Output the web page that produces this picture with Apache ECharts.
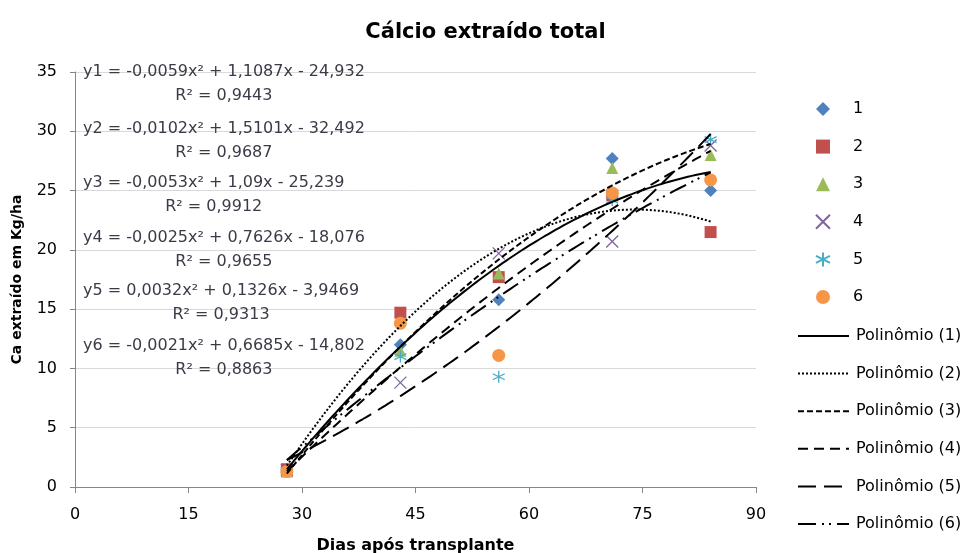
<!DOCTYPE html>
<html>
<head>
<meta charset="utf-8">
<script src="https://cdn.jsdelivr.net/npm/echarts@6/dist/echarts.min.js"></script>
<style>html,body{margin:0;padding:0;background:#fff}#c{width:971px;height:553px}</style>
</head>
<body>
<div id="c"></div>
<script>
// ---- data ----
const days = [28, 43, 56, 71, 84];
const s1 = [1.5, 12.0, 15.8, 27.7, 25.0];
const s2 = [1.5, 14.7, 17.7, 24.6, 21.5];
const s3 = [1.3, 11.5, 18.0, 26.9, 28.0];
const s4 = [1.4, 8.8, 19.7, 20.7, 28.8];
const s5 = [1.4, 11.0, 9.3, 24.2, 29.3];
const s6 = [1.3, 13.8, 11.1, 24.8, 25.9];
const seriesNames = ['1', '2', '3', '4', '5', '6'];
const trendNames = ['Polinômio (1)', 'Polinômio (2)', 'Polinômio (3)', 'Polinômio (4)', 'Polinômio (5)', 'Polinômio (6)'];
// quadratic trend coefficients shown on the chart: [a, b, c] for a*x^2 + b*x + c
const coefA = [-0.0059, -0.0102, -0.0053, -0.0025, 0.0032, -0.0021];
const coefB = [1.1087, 1.5101, 1.09, 0.7626, 0.1326, 0.6685];
const coefC = [-24.932, -32.492, -25.239, -18.076, -3.9469, -14.802];
const eqLabels = [
  'y1 = -0,0059x² + 1,1087x - 24,932',
  'y2 = -0,0102x² + 1,5101x - 32,492',
  'y3 = -0,0053x² + 1,09x - 25,239',
  'y4 = -0,0025x² + 0,7626x - 18,076',
  'y5 = 0,0032x² + 0,1326x - 3,9469',
  'y6 = -0,0021x² + 0,6685x - 14,802'
];
const r2Labels = ['R² = 0,9443', 'R² = 0,9687', 'R² = 0,9912', 'R² = 0,9655', 'R² = 0,9313', 'R² = 0,8863'];
const xTicks = [0, 15, 30, 45, 60, 75, 90];
const yTicks = [0, 5, 10, 15, 20, 25, 30, 35];

// ---- styles ----
const colors = ['#4F81BD', '#C0504D', '#9BBB59', '#8064A2', '#4BACC6', '#F79646'];
const symbols = ['diamond', 'rect', 'triangle', 'path://M0,0L10,10M10,0L0,10', 'path://M5,0L5,10M0,2.5L10,7.5M0,7.5L10,2.5', 'circle'];
const symSizes = [13, 12, 12, 12, 12, 13];
const dashes = ['solid', [2, 2], [6, 3], [10, 6], [18, 8], [18, 6, 2, 5, 2, 6]];
const FONT = '"DejaVu Sans", sans-serif';

const values = [s1, s2, s3, s4, s5, s6];
const series = [];
values.forEach((v, i) => {
  const stroke = i === 3 || i === 4;
  series.push({
    name: seriesNames[i],
    type: 'scatter',
    data: days.map((d, k) => [d, v[k]]),
    symbol: symbols[i],
    symbolSize: symSizes[i],
    itemStyle: stroke ? { color: 'rgba(0,0,0,0)', borderColor: colors[i], borderWidth: 1.3, opacity: 1 } : { color: colors[i], opacity: 1 },
    emphasis: { disabled: true },
    z: 2
  });
});
// trend curves
const xs = [];
for (let x = days[0]; x <= days[days.length - 1]; x += 0.5) xs.push(x);
for (let i = 0; i < 6; i++) {
  series.push({
    name: trendNames[i],
    type: 'line',
    data: xs.map(x => [x, coefA[i] * x * x + coefB[i] * x + coefC[i]]),
    symbol: 'none',
    lineStyle: { color: '#000', width: 2, type: dashes[i] },
    itemStyle: { color: 'rgba(0,0,0,0)' },
    emphasis: { disabled: true },
    z: 3
  });
}

// equation text blocks
const ctx = document.createElement('canvas').getContext('2d');
ctx.font = '16px ' + FONT;
const eqY = [72, 129, 183, 238, 291, 346];
const graphics = [];
eqLabels.forEach((t, i) => {
  const w = ctx.measureText(t).width;
  const cx = 83 + w / 2;
  graphics.push({ type: 'text', x: cx, y: eqY[i], z: 10,
    style: { text: t, font: '16px ' + FONT, fill: '#3b3b48', align: 'center', verticalAlign: 'middle' } });
  graphics.push({ type: 'text', x: cx, y: eqY[i] + 24, z: 10,
    style: { text: r2Labels[i], font: '16px ' + FONT, fill: '#3b3b48', align: 'center', verticalAlign: 'middle' } });
});

const chart = echarts.init(document.getElementById('c'));
chart.setOption({
  animation: false,
  backgroundColor: '#fff',
  title: {
    text: 'Cálcio extraído total', left: 'center', top: 17,
    textStyle: { fontFamily: FONT, fontWeight: 'bold', fontSize: 21, color: '#000' }
  },
  grid: { left: 75, right: 215, top: 72, bottom: 66, containLabel: false, outerBoundsMode: 'none' },
  xAxis: {
    type: 'value', min: xTicks[0], max: xTicks[xTicks.length - 1], interval: 15,
    name: 'Dias após transplante', nameLocation: 'middle', nameGap: 51,
    nameTextStyle: { fontFamily: FONT, fontWeight: 'bold', fontSize: 16, color: '#000' },
    axisLine: { lineStyle: { color: '#868686', width: 1 } },
    axisTick: { show: true, length: 6, lineStyle: { color: '#868686' } },
    axisLabel: { fontFamily: FONT, fontSize: 16, color: '#000', margin: 20 },
    splitLine: { show: false }
  },
  yAxis: {
    type: 'value', min: yTicks[0], max: yTicks[yTicks.length - 1], interval: 5,
    name: 'Ca extraído em Kg/ha', nameLocation: 'middle', nameGap: 51,
    nameTextStyle: { fontFamily: FONT, fontWeight: 'bold', fontSize: 14, color: '#000' },
    axisLine: { show: true, lineStyle: { color: '#868686', width: 1 } },
    axisTick: { show: true, length: 5, lineStyle: { color: '#868686' } },
    axisLabel: { fontFamily: FONT, fontSize: 16, color: '#000', margin: 18 },
    splitLine: { show: true, lineStyle: { color: '#d9d9d9', width: 1 } }
  },
  legend: [
    {
      data: seriesNames, orient: 'vertical', left: 810, top: 96,
      itemWidth: 14, itemHeight: 14, itemGap: 21.6,
      textStyle: { fontFamily: FONT, fontSize: 16, color: '#000', padding: [0, 0, 0, 18] }
    },
    {
      data: trendNames, orient: 'vertical', left: 792, top: 323,
      itemWidth: 51, itemHeight: 14, itemGap: 21.6,
      textStyle: { fontFamily: FONT, fontSize: 16, color: '#000', padding: [0, 0, 0, 2] }
    }
  ],
  graphic: graphics,
  series: series
});
</script>
</body>
</html>
